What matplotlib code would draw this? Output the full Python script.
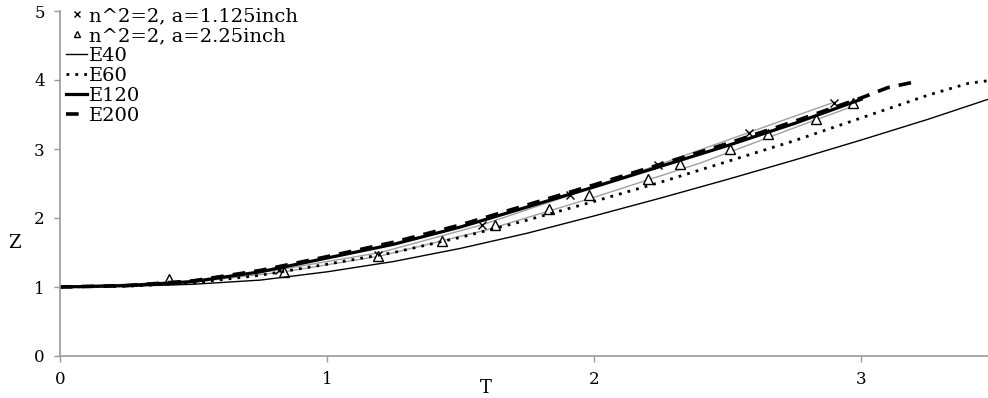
import matplotlib
matplotlib.use("Agg")
import matplotlib.pyplot as plt

# model curves (T, Z)
e40_t = [0, 0.25, 0.5, 0.75, 1.0, 1.25, 1.5, 1.75, 2.0, 2.25, 2.5, 2.75, 3.0, 3.25, 3.475]
e40_z = [1.0, 1.01, 1.04, 1.10, 1.22, 1.37, 1.56, 1.78, 2.03, 2.29, 2.56, 2.84, 3.13, 3.43, 3.72]

e60_t = [0, 0.25, 0.5, 0.75, 1.0, 1.25, 1.5, 1.75, 2.0, 2.25, 2.5, 2.75, 3.0, 3.25, 3.4, 3.475]
e60_z = [1.0, 1.01, 1.06, 1.17, 1.33, 1.50, 1.72, 1.97, 2.24, 2.52, 2.82, 3.12, 3.45, 3.78, 3.95, 3.99]

e120_t = [0, 0.25, 0.5, 0.75, 1.0, 1.25, 1.5, 1.75, 2.0, 2.25, 2.5, 2.75, 3.0]
e120_z = [1.0, 1.02, 1.08, 1.22, 1.42, 1.62, 1.87, 2.16, 2.45, 2.75, 3.05, 3.37, 3.72]

e200_t = [0, 0.25, 0.5, 0.75, 1.0, 1.25, 1.5, 1.75, 2.0, 2.25, 2.5, 2.75, 3.0, 3.1, 3.21]
e200_z = [1.0, 1.02, 1.09, 1.24, 1.44, 1.65, 1.90, 2.19, 2.48, 2.78, 3.08, 3.40, 3.74, 3.89, 3.98]

# unlabelled grey curves
grey1_t = [0, 0.5, 0.82, 1.2, 1.58, 1.91, 2.24, 2.58, 2.90]
grey1_z = [1.0, 1.08, 1.25, 1.50, 1.90, 2.33, 2.77, 3.24, 3.68]
grey2_t = [0, 0.5, 0.84, 1.2, 1.6, 2.0, 2.4, 2.8, 2.97]
grey2_z = [1.0, 1.07, 1.22, 1.45, 1.83, 2.30, 2.80, 3.38, 3.62]

# measured points
x_t = [0.82, 1.19, 1.58, 1.91, 2.24, 2.58, 2.90]
x_z = [1.25, 1.46, 1.90, 2.33, 2.77, 3.23, 3.67]
tri_t = [0.41, 0.84, 1.19, 1.43, 1.63, 1.83, 1.98, 2.20, 2.32, 2.51, 2.65, 2.83, 2.97]
tri_z = [1.12, 1.22, 1.45, 1.67, 1.90, 2.13, 2.33, 2.57, 2.78, 3.00, 3.22, 3.43, 3.66]

xticks = [0, 1, 2, 3]
yticks = [0, 1, 2, 3, 4, 5]

plt.rcParams['font.family'] = ['DejaVu Serif']

fig = plt.figure(figsize=(9.88, 3.98), dpi=100)
ax = fig.add_axes([60 / 988, 42 / 398, 928 / 988, 345 / 398])

ax.plot(grey1_t, grey1_z, color='#a0a0a0', lw=1.0)
ax.plot(grey2_t, grey2_z, color='#a0a0a0', lw=1.0)

ax.plot(x_t, x_z, linestyle='none', marker='x', color='black', ms=6, mew=1.0,
        label='n^2=2, a=1.125inch')
ax.plot(tri_t, tri_z, linestyle='none', marker='^', mfc='white', mec='black', ms=7, mew=1.0,
        label='n^2=2, a=2.25inch')
ax.plot(e40_t, e40_z, color='black', lw=1.0, label='E40')
ax.plot(e60_t, e60_z, color='black', lw=2.0, linestyle=(0, (1, 2.2)), label='E60')
ax.plot(e120_t, e120_z, color='black', lw=2.3, label='E120')
ax.plot(e200_t, e200_z, color='black', lw=2.6, linestyle=(0, (3.5, 2.5)), label='E200')

ax.set_xlim(0, 3.475)
ax.set_ylim(0, 5)
ax.set_xticks(xticks)
ax.set_yticks(yticks)
ax.tick_params(axis='both', colors='#999999', labelcolor='black', length=4, width=1,
               labelsize=12)
ax.tick_params(axis='x', pad=7)
ax.tick_params(axis='y', pad=7)
for s in ['top', 'right']:
    ax.spines[s].set_visible(False)
for s in ['left', 'bottom']:
    ax.spines[s].set_color('#999999')
    ax.spines[s].set_linewidth(1.2)

leg = ax.legend(loc='upper left', bbox_to_anchor=(64 / 988, 1 - 5 / 398),
                bbox_transform=fig.transFigure, frameon=False, fontsize=14,
                handlelength=1.1, handletextpad=0.1, labelspacing=0.1, borderaxespad=0,
                borderpad=0.1, markerscale=0.7)

fig.text(14 / 988, 1 - 243 / 398, 'Z', fontsize=13, ha='center', va='center')
fig.text(486 / 988, 1 - 388 / 398, 'T', fontsize=13, ha='center', va='center')

fig.savefig('out.png', dpi=100)
